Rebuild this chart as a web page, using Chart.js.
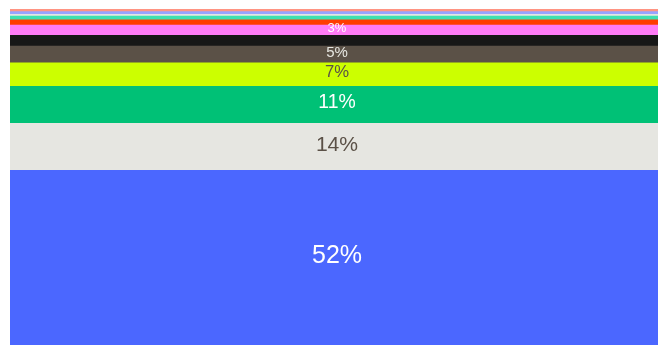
<!DOCTYPE html>
<html lang="en">
<head>
    <meta charset="UTF-8">
    <title>Share breakdown</title>
    <script src="https://cdn.jsdelivr.net/npm/chart.js@4.4.0/dist/chart.umd.min.js"></script>
    <style>
        html, body { margin: 0; padding: 0; background: #ffffff; }
        .wrap { width: 658px; height: 346px; position: relative; }
    </style>
</head>
<body>
    <div class="wrap">
        <canvas id="shareChart"></canvas>
    </div>

    <script>
        // Segments, bottom to top
        const segments = ['a', 'b', 'c', 'd', 'e', 'f', 'g', 'h', 'i', 'j', 'k', 'l'];
        const shares = [52, 14, 11, 7, 5, 3.2, 3, 1.6, 1.1, 0.5, 0.8, 0.8];
        const showLabel = [true, true, true, true, true, false, true, false, false, false, false, false];

        const fills = ['#4b67ff', '#e6e6e1', '#00c176', '#ccff00', '#5b5147', '#171717',
                       '#ff7bf6', '#ff3c00', '#3ee0b0', '#e4e4e4', '#97a3ff', '#ff9482'];
        const inks = ['#ffffff', '#5b5147', '#ffffff', '#5b5147', '#e6e6e1', '#ffffff',
                      '#ffffff', '#ffffff', '#ffffff', '#5b5147', '#ffffff', '#ffffff'];

        const total = shares.reduce((a, b) => a + b, 0);

        // Percent labels centred in each segment, sized by segment height
        const segmentLabels = {
            id: 'segmentLabels',
            afterDatasetsDraw(chart) {
                const ctx = chart.ctx;
                ctx.save();
                ctx.textAlign = 'center';
                ctx.textBaseline = 'middle';
                chart.data.datasets.forEach((ds, i) => {
                    if (!showLabel[i]) return;
                    const bar = chart.getDatasetMeta(i).data[0];
                    const h = bar.base - bar.y;
                    const size = Math.min(25, 6 + 2.2 * Math.sqrt(h));
                    ctx.font = size.toFixed(1) + 'px "Liberation Sans", Arial, sans-serif';
                    ctx.fillStyle = inks[i];
                    ctx.fillText(Math.round(shares[i]) + '%', bar.x + 3, bar.y + h / 2 - 2);
                });
                ctx.restore();
            }
        };

        new Chart(document.getElementById('shareChart'), {
            type: 'bar',
            data: {
                labels: [''],
                datasets: segments.map((name, i) => ({
                    label: name,
                    data: [shares[i]],
                    backgroundColor: fills[i],
                    borderWidth: 0,
                    barPercentage: 1,
                    categoryPercentage: 1
                }))
            },
            options: {
                responsive: true,
                maintainAspectRatio: false,
                animation: false,
                layout: { padding: { left: 10, top: 9, right: 0, bottom: 1 } },
                plugins: {
                    legend: { display: false },
                    tooltip: { enabled: false }
                },
                scales: {
                    x: { stacked: true, display: false },
                    y: { stacked: true, display: false, min: 0, max: total }
                }
            },
            plugins: [segmentLabels]
        });
    </script>
</body>
</html>
